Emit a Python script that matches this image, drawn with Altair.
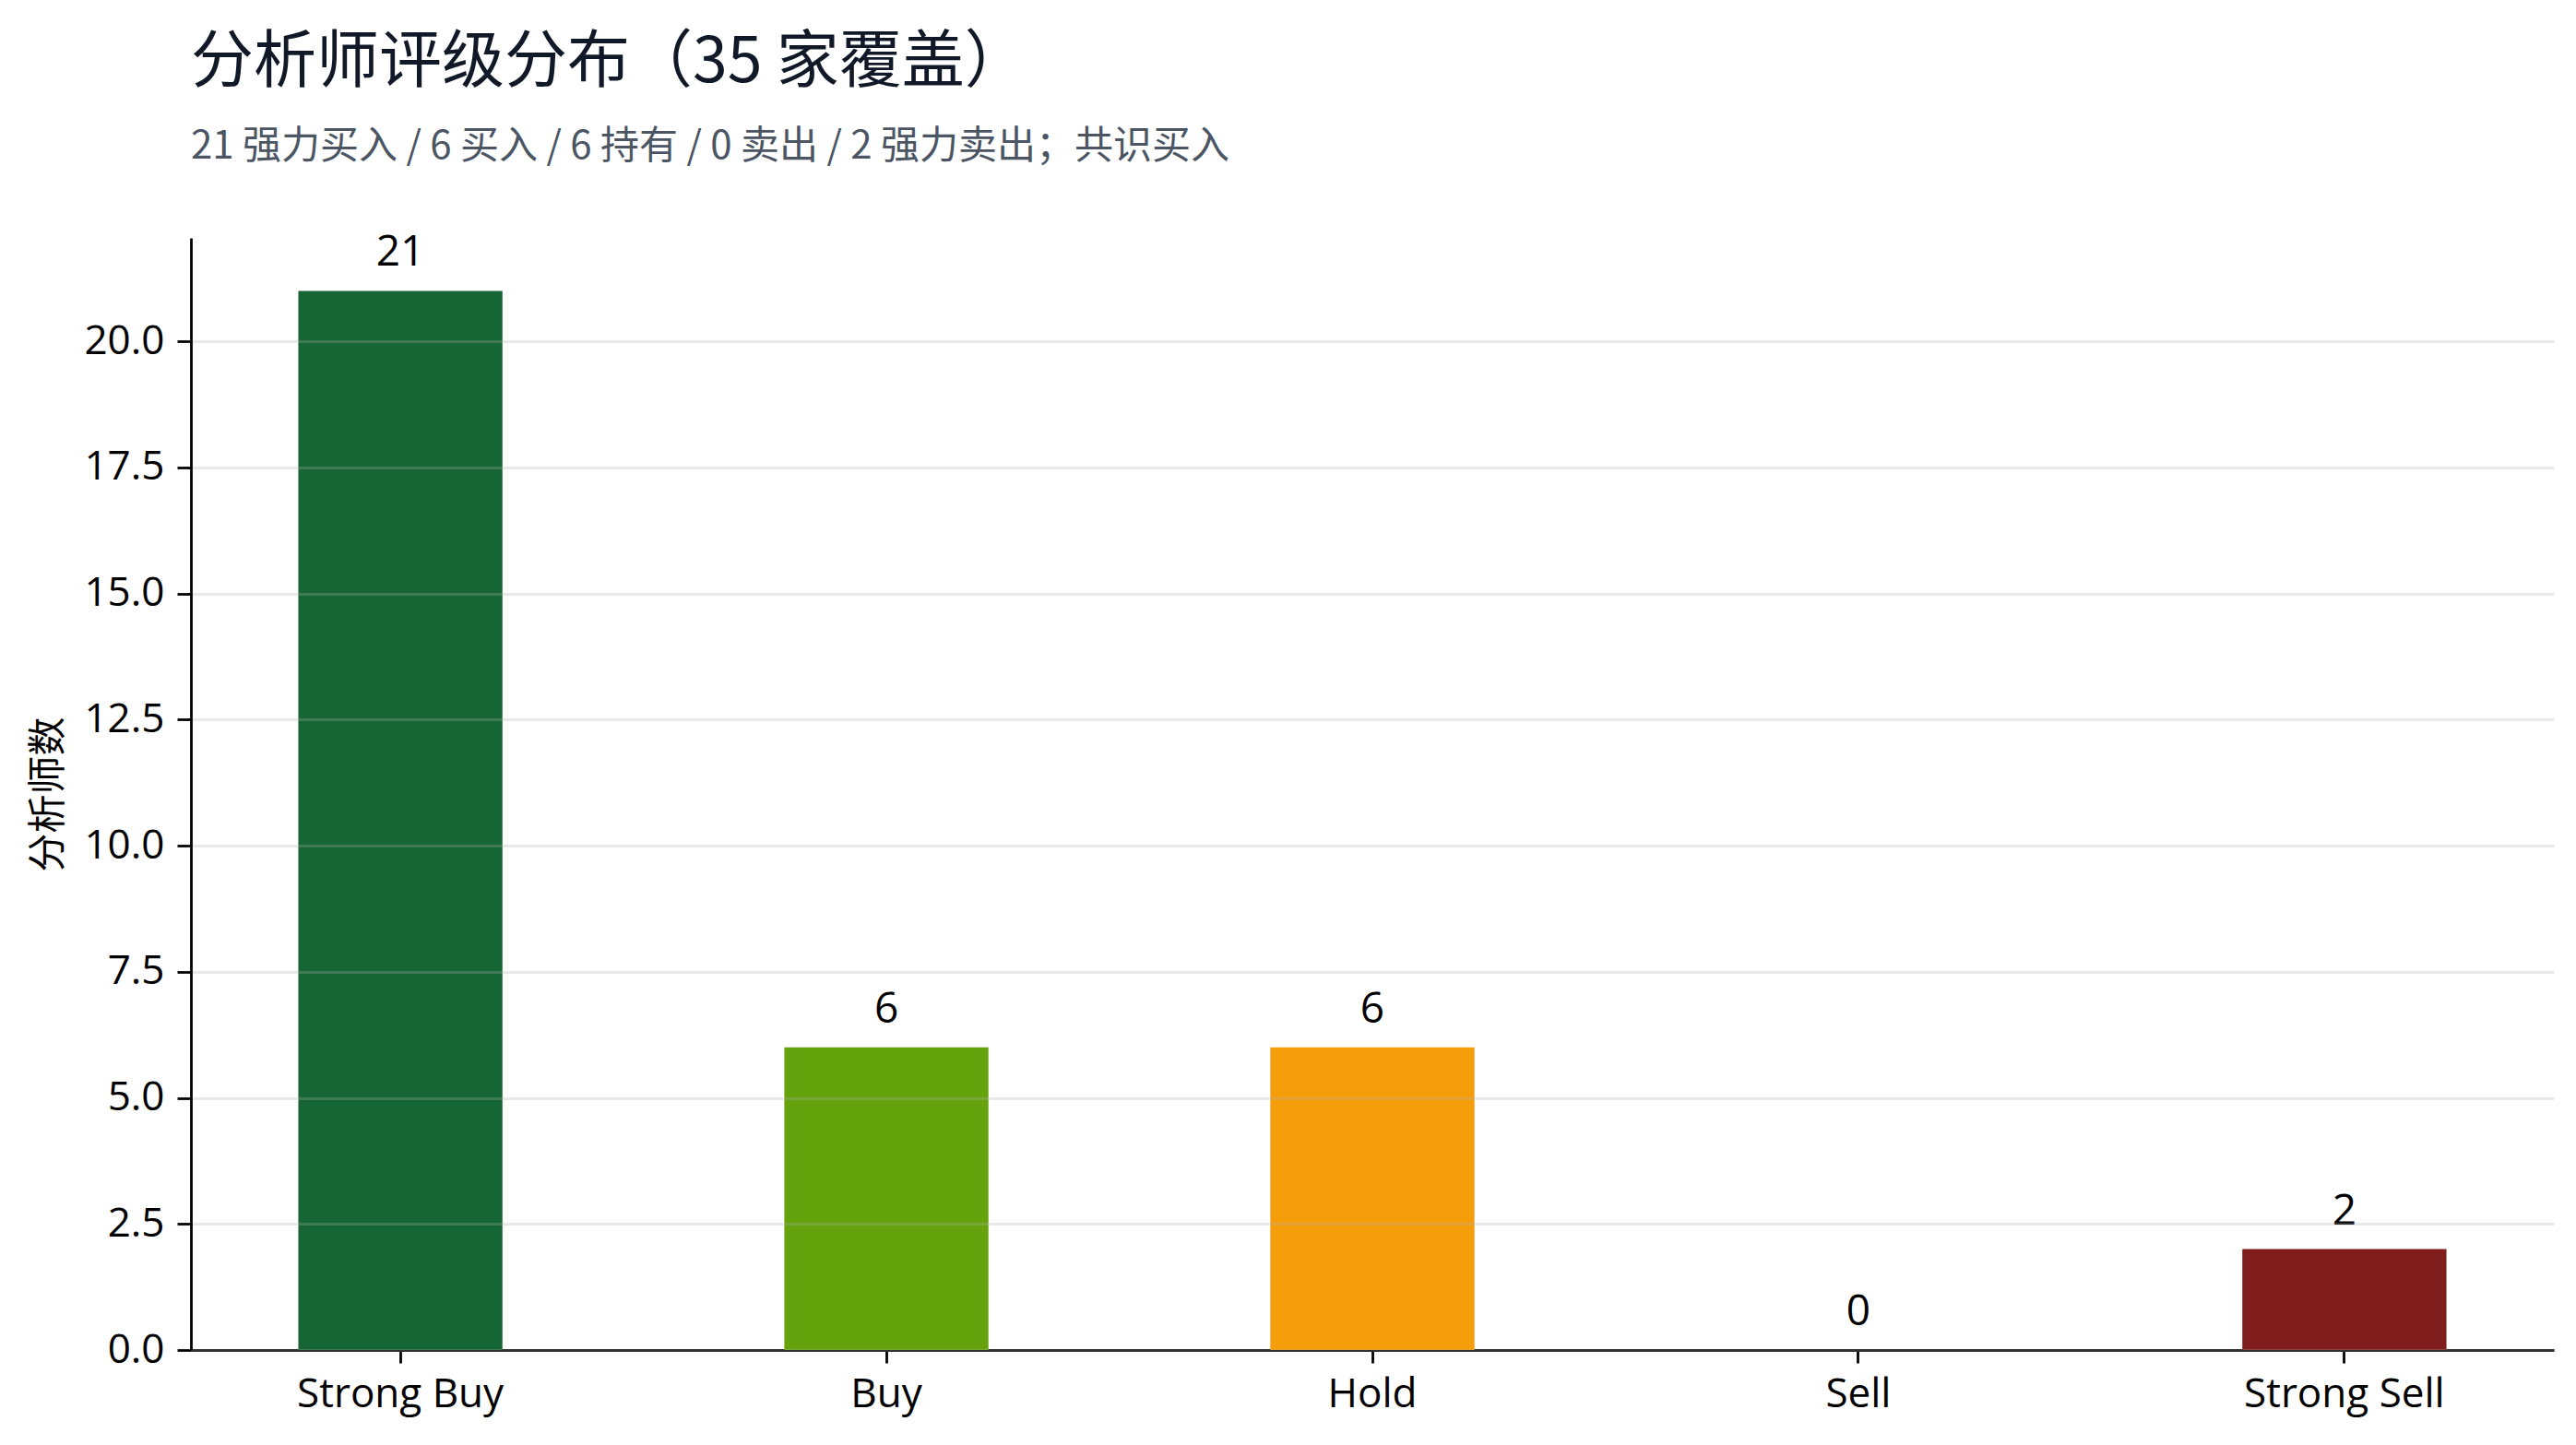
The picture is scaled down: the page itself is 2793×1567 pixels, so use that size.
import altair as alt
import pandas as pd

categories = ["Strong Buy", "Buy", "Hold", "Sell", "Strong Sell"]
counts = [21, 6, 6, 0, 2]
colors = ["#166534", "#65a30d", "#f59e0b", "#dc2626", "#7f1d1d"]
y_ticks = [0, 2.5, 5, 7.5, 10, 12.5, 15, 17.5, 20]

title_text = "分析师评级分布（35 家覆盖）"
subtitle_text = "21 强力买入 / 6 买入 / 6 持有 / 0 卖出 / 2 强力卖出；共识买入"
y_title = "分析师数"

df = pd.DataFrame({"rating": categories, "count": counts, "color": colors})

CJK = "Noto Sans CJK SC"
LAT = "Open Sans"

x_enc = alt.X(
    "rating:N",
    sort=categories,
    scale=alt.Scale(paddingInner=0.58, paddingOuter=0.221),
    axis=alt.Axis(
        title=None,
        labelAngle=0,
        labelFont=LAT,
        labelFontSize=44,
        labelColor="#000000",
        labelPadding=12,
        labelLimit=1000,
        tickSize=14,
        tickWidth=2.8,
        tickColor="#000000",
        domainColor="#000000",
        domainWidth=2.8,
        grid=False,
    ),
)

y_enc = alt.Y(
    "count:Q",
    scale=alt.Scale(domain=[0, 22.05], nice=False, zero=True),
    axis=alt.Axis(
        title=y_title,
        titleFont=CJK,
        titleFontSize=42,
        titleFontWeight="normal",
        titleColor="#000000",
        titlePadding=16,
        values=y_ticks,
        format=".1f",
        labelFont=LAT,
        labelFontSize=44,
        labelColor="#000000",
        labelPadding=14,
        tickSize=15,
        tickWidth=2.8,
        tickColor="#000000",
        domainColor="#000000",
        domainWidth=2.8,
        grid=True,
        gridColor="#b0b0b0",
        gridOpacity=0.28,
        gridWidth=3,
        zindex=1,
    ),
)

bars = alt.Chart(df).mark_bar().encode(
    x=x_enc,
    y=y_enc,
    color=alt.Color("color:N", scale=None),
)

labels = alt.Chart(df).mark_text(
    baseline="alphabetic", dy=-27, font=LAT, fontSize=46, color="#000000"
).encode(
    x=alt.X("rating:N", sort=categories),
    y=alt.Y("count:Q"),
    text=alt.Text("count:Q", format="d"),
)

chart = (
    alt.layer(bars, labels)
    .properties(
        width=2562,
        height=1206,
        padding={"left": 199, "top": 250, "right": 16, "bottom": 90},
        autosize=alt.AutoSizeParams(type="none"),
        view=alt.ViewBackground(stroke="transparent", strokeOpacity=0, strokeWidth=0),
        title=alt.TitleParams(
            text=title_text,
            subtitle=subtitle_text,
            anchor="start",
            frame="group",
            font=CJK,
            fontSize=68,
            fontWeight="normal",
            color="#111827",
            subtitleFont=CJK,
            subtitleFontSize=42,
            subtitleColor="#4b5563",
            subtitlePadding=36,
            offset=71,
        ),
    )
    .configure_view(stroke="transparent", strokeWidth=0, strokeOpacity=0)
    .configure(background="#ffffff")
)

chart.save("out.html", embed_options={"renderer": "svg", "actions": False})
